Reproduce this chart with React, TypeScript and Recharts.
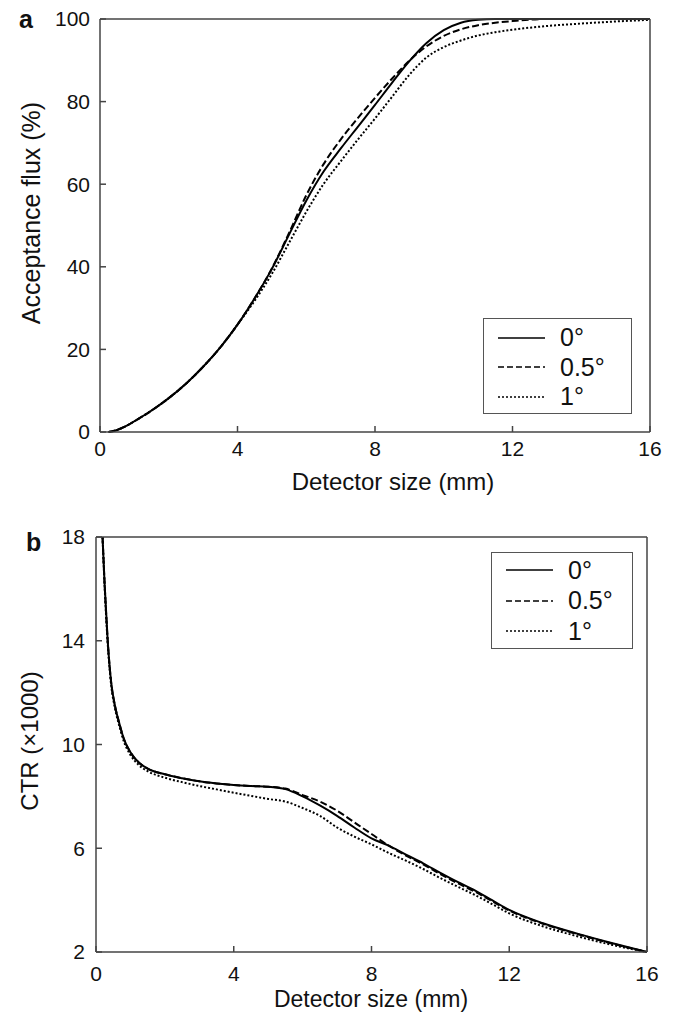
import React from "react";
import { LineChart, Line, XAxis, YAxis, Legend } from "recharts";

// panel a: acceptance flux vs detector size
const sizeA = [0.25, 0.5, 0.75, 1, 1.5, 2, 2.5, 3, 3.5, 4, 4.5, 5, 5.5, 6, 6.5, 7, 7.5, 8, 8.5, 9, 9.5, 10, 10.5, 11, 11.5, 12, 13, 14, 15, 16];
const flux0 = [0, 0.5, 1.4, 2.6, 5.2, 8.2, 11.7, 15.8, 20.5, 26, 32.4, 39.5, 47.8, 56, 63, 68.6, 73.9, 79.2, 84.6, 89.8, 94.2, 97.3, 99.1, 99.8, 100, 100, 100, 100, 100, 100];
const flux05 = [0, 0.5, 1.4, 2.6, 5.2, 8.2, 11.7, 15.8, 20.5, 26, 32.4, 39.6, 48.2, 57.3, 64.8, 70.8, 76, 80.9, 85.6, 89.9, 93.4, 95.9, 97.5, 98.5, 99.1, 99.5, 100, 100, 100, 100];
const flux1 = [0, 0.5, 1.4, 2.6, 5.2, 8.2, 11.7, 15.8, 20.5, 26, 31.8, 38.3, 45.8, 53.3, 60, 65.5, 70.8, 75.9, 81.2, 86.5, 90.7, 93.2, 94.8, 96, 96.8, 97.4, 98.3, 98.9, 99.4, 99.8];

// panel b: CTR vs detector size
const sizeB = [0.19, 0.25, 0.34, 0.44, 0.55, 0.68, 0.8, 1, 1.25, 1.5, 2, 2.5, 3, 3.5, 4, 4.5, 5, 5.5, 6, 6.5, 7, 7.5, 8, 8.5, 9, 9.5, 10, 10.5, 11, 11.5, 12, 13, 14, 15, 16];
const ctr0 = [18, 16.2, 14, 12.4, 11.5, 10.8, 10.25, 9.7, 9.3, 9.07, 8.85, 8.7, 8.58, 8.5, 8.44, 8.4, 8.37, 8.28, 8.0, 7.65, 7.25, 6.8, 6.38, 6.1, 5.75, 5.42, 5.05, 4.7, 4.38, 4.0, 3.62, 3.1, 2.7, 2.34, 2.0];
const ctr05 = [18, 16.2, 14, 12.4, 11.5, 10.8, 10.25, 9.7, 9.3, 9.07, 8.85, 8.7, 8.58, 8.5, 8.44, 8.4, 8.37, 8.3, 8.05, 7.8, 7.45, 7.0, 6.55, 6.1, 5.72, 5.38, 5.0, 4.65, 4.33, 3.96, 3.6, 3.08, 2.68, 2.32, 2.0];
const ctr1 = [18, 16.1, 13.9, 12.3, 11.4, 10.7, 10.15, 9.6, 9.2, 8.97, 8.72, 8.55, 8.4, 8.27, 8.14, 8.02, 7.9, 7.8, 7.55, 7.25, 6.8, 6.45, 6.15, 5.82, 5.52, 5.2, 4.85, 4.52, 4.2, 3.85, 3.49, 2.98, 2.6, 2.27, 2.0];

const sizeTicks = [0, 4, 8, 12, 16];
const fluxTicks = [0, 20, 40, 60, 80, 100];
const ctrTicks = [2, 6, 10, 14, 18];
const angles = ["0°", "0.5°", "1°"];

const FONT = '"Liberation Sans", Arial, Helvetica, sans-serif';
const AXIS = "#444";
const dashes = ["", "7 3", "2 2"];
const keys = ["s0", "s05", "s1"];

const dataA = sizeA.map((x, i) => ({ x, s0: flux0[i], s05: flux05[i], s1: flux1[i] }));
const dataB = sizeB.map((x, i) => ({ x, s0: ctr0[i], s05: ctr05[i], s1: ctr1[i] }));

const LegendBox = ({ w, h, pad, row }: { w: number; h: number; pad: number; row: number }) => (
  <div
    style={{
      width: w,
      height: h,
      boxSizing: "border-box",
      border: "1px solid #555",
      background: "#fff",
      paddingTop: pad,
      fontFamily: FONT,
      fontSize: 25,
      color: "#111",
    }}
  >
    {angles.map((name, i) => (
      <div key={name} style={{ display: "flex", alignItems: "center", height: row }}>
        <svg width={47} height={4} style={{ marginLeft: 14 }}>
          <line x1={0} y1={2} x2={47} y2={2} stroke="#000" strokeWidth={1.4} strokeDasharray={i === 1 ? "6 3" : dashes[i]} />
        </svg>
        <span style={{ marginLeft: 15, lineHeight: 1 }}>{name}</span>
      </div>
    ))}
  </div>
);

const txt = (s: string, x: number, y: number, size: number, rotate = false, bold = false) => () => (
  <text
    x={x}
    y={y}
    textAnchor={bold ? "start" : "middle"}
    fontFamily={FONT}
    fontSize={size}
    fontWeight={bold ? "bold" : "normal"}
    fill="#111"
    transform={rotate ? `rotate(-90 ${x} ${y})` : undefined}
  >
    {s}
  </text>
);

type PanelProps = {
  data: any[];
  height: number;
  domain: [number, number];
  yTicks: number[];
  m: { top: number; right: number; bottom: number; left: number };
  xMargin: number;
  yMargin: number;
  tag: () => JSX.Element;
  xLabel: () => JSX.Element;
  yLabel: () => JSX.Element;
  legend: { left: number; top: number; w: number; h: number; pad: number; row: number };
};

const Panel = ({ data, height, domain, yTicks, m, xMargin, yMargin, tag, xLabel, yLabel, legend }: PanelProps) => (
  <LineChart width={678} height={height} data={data} margin={{ top: 0, right: 0, bottom: 0, left: 0 }}>
    <XAxis
      xAxisId="b"
      dataKey="x"
      type="number"
      domain={[0, 16]}
      ticks={sizeTicks}
      height={m.bottom}
      tickSize={-6}
      tickMargin={xMargin}
      stroke={AXIS}
      strokeWidth={1.5}
      tick={{ fill: "#111", fontSize: 21, fontFamily: FONT }}
      label={xLabel}
    />
    <XAxis
      xAxisId="t"
      orientation="top"
      dataKey="x"
      type="number"
      domain={[0, 16]}
      ticks={sizeTicks}
      height={m.top}
      tickSize={-6}
      tick={false}
      stroke={AXIS}
      strokeWidth={1.5}
      label={tag}
    />
    <YAxis
      yAxisId="l"
      type="number"
      domain={domain}
      ticks={yTicks}
      width={m.left}
      tickSize={-6}
      tickMargin={yMargin}
      stroke={AXIS}
      strokeWidth={1.5}
      tick={{ fill: "#111", fontSize: 21, fontFamily: FONT }}
      label={yLabel}
    />
    <YAxis
      yAxisId="r"
      orientation="right"
      type="number"
      domain={domain}
      ticks={yTicks}
      width={m.right}
      tickSize={-6}
      tick={false}
      stroke={AXIS}
      strokeWidth={1.5}
    />
    {keys.map((k, i) => (
      <Line
        key={k}
        xAxisId="b"
        yAxisId="l"
        type="monotone"
        dataKey={k}
        stroke="#000"
        strokeWidth={2}
        strokeDasharray={dashes[i]}
        dot={false}
        activeDot={false}
        isAnimationActive={false}
      />
    ))}
    <Legend
      layout="vertical"
      align="center"
      verticalAlign="middle"
      wrapperStyle={{ left: legend.left, top: legend.top, width: legend.w, height: legend.h }}
      content={() => <LegendBox w={legend.w} h={legend.h} pad={legend.pad} row={legend.row} />}
    />
  </LineChart>
);

export default function App() {
  return (
    <div style={{ position: "absolute", left: 0, top: 0, width: 678, height: 1012, background: "#fff" }}>
      <div style={{ position: "absolute", left: 0, top: 0 }}>
        <Panel
          data={dataA}
          height={500}
          domain={[0, 100]}
          yTicks={fluxTicks}
          m={{ top: 19, right: 28, bottom: 68, left: 100 }}
          xMargin={15}
          yMargin={16}
          tag={txt("a", 19, 28, 25, false, true)}
          xLabel={txt("Detector size (mm)", 393, 490, 24)}
          yLabel={txt("Acceptance flux (%)", 40, 213, 25, true)}
          legend={{ left: 483, top: 318, w: 149, h: 96, pad: 4, row: 29.5 }}
        />
      </div>
      <div style={{ position: "absolute", left: 0, top: 500 }}>
        <Panel
          data={dataB}
          height={512}
          domain={[2, 18]}
          yTicks={ctrTicks}
          m={{ top: 37, right: 31, bottom: 60, left: 96 }}
          xMargin={20}
          yMargin={17}
          tag={txt("b", 26, 51, 25, false, true)}
          xLabel={txt("Detector size (mm)", 371, 507, 23)}
          yLabel={txt("CTR (×1000)", 38, 241, 24, true)}
          legend={{ left: 491, top: 52, w: 142, h: 97, pad: 2, row: 30.5 }}
        />
      </div>
    </div>
  );
}
